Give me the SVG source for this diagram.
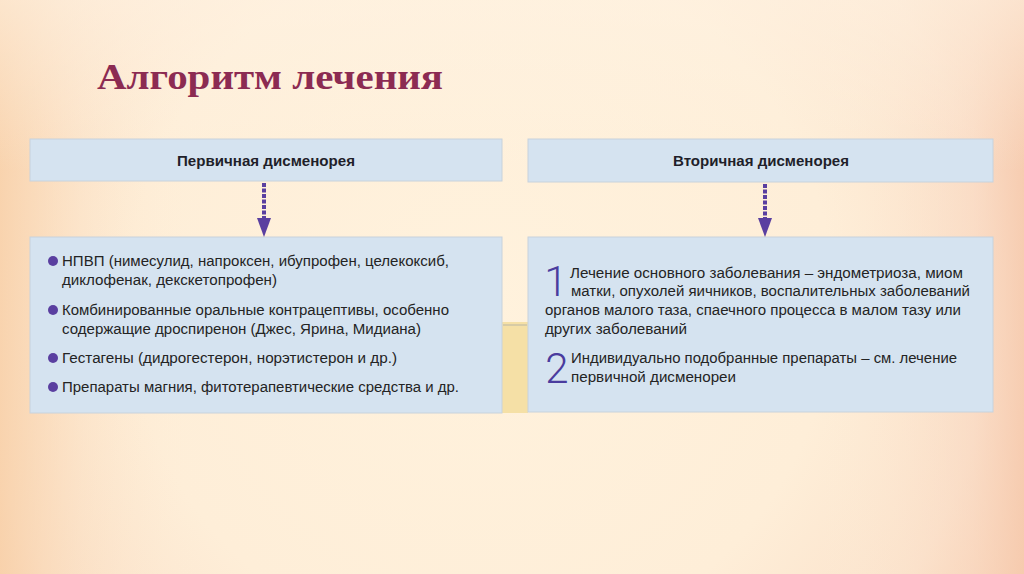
<svg xmlns="http://www.w3.org/2000/svg" width="1024" height="574" viewBox="0 0 1024 574">
<defs>
<radialGradient id="bg" cx="480" cy="300" r="640" gradientUnits="userSpaceOnUse">
<stop offset="0" stop-color="#FFF2DD"/>
<stop offset="0.55" stop-color="#FEEED8"/>
<stop offset="0.8" stop-color="#FBE2CB"/>
<stop offset="1" stop-color="#F6CBAA"/>
</radialGradient>
<linearGradient id="edgeL" x1="0" y1="0" x2="1" y2="0">
<stop offset="0" stop-color="#F8CFA6" stop-opacity="0.8"/>
<stop offset="0.08" stop-color="#FAD9B6" stop-opacity="0.3"/>
<stop offset="0.2" stop-color="#FFF2DD" stop-opacity="0"/>
<stop offset="0.8" stop-color="#FFF2DD" stop-opacity="0"/>
<stop offset="0.95" stop-color="#F9D6C0" stop-opacity="0.5"/>
<stop offset="1" stop-color="#F6C9AD" stop-opacity="0.8"/>
</linearGradient>
<linearGradient id="topLight" x1="0" y1="0" x2="0" y2="1">
<stop offset="0" stop-color="#FFF3E3" stop-opacity="0.6"/>
<stop offset="0.3" stop-color="#FFF3E3" stop-opacity="0"/>
</linearGradient>
<style>
.box{fill:#D5E3F0;stroke:#C7D2DC;stroke-width:1}
.hdr{font-family:"Liberation Sans",Arial,sans-serif;font-size:14.5px;font-weight:bold;fill:#1F1F2A}
.txt{font-family:"Liberation Sans",Arial,sans-serif;font-size:15.5px;fill:#242424}
.num{font-family:Roboto,"Open Sans","Liberation Sans",sans-serif;font-weight:300;font-size:42px;fill:#4A3C9E}
.dot{fill:#5A3FA0}
.title{font-family:"Liberation Serif","Times New Roman",serif;font-weight:bold;font-size:36px;fill:#8C2B52}
.conn{stroke:#5A3FA0;stroke-width:4;stroke-dasharray:4 1.5;fill:none}
.head{fill:#5A3FA0}
</style>
</defs>
<rect x="0" y="0" width="1024" height="574" fill="url(#bg)"/>
<rect x="0" y="0" width="1024" height="574" fill="url(#edgeL)"/>
<rect x="0" y="0" width="1024" height="574" fill="url(#topLight)"/>

<text class="title" x="97" y="89" textLength="346" lengthAdjust="spacingAndGlyphs">Алгоритм лечения</text>

<rect x="502" y="322" width="26" height="91" fill="#F5E0A6"/>
<line x1="503" y1="325" x2="527" y2="325" stroke="#B9B6A6" stroke-width="1"/>

<g id="primary">
<rect class="box" x="30" y="139" width="472" height="42"/>
<text class="hdr" x="177" y="166" textLength="178" lengthAdjust="spacingAndGlyphs">Первичная дисменорея</text>
</g>

<g id="secondary">
<rect class="box" x="528" y="139" width="465" height="43"/>
<text class="hdr" x="673" y="166" textLength="176" lengthAdjust="spacingAndGlyphs">Вторичная дисменорея</text>
</g>

<g id="primary-treatment">
<rect class="box" x="30" y="237" width="472" height="176"/>
<circle class="dot" cx="53" cy="261" r="5"/>
<text class="txt" x="62" y="266" textLength="387" lengthAdjust="spacingAndGlyphs">НПВП (нимесулид, напроксен, ибупрофен, целекоксиб,</text>
<text class="txt" x="62" y="285" textLength="215" lengthAdjust="spacingAndGlyphs">диклофенак, декскетопрофен)</text>
<circle class="dot" cx="53" cy="310" r="5"/>
<text class="txt" x="62" y="315" textLength="387" lengthAdjust="spacingAndGlyphs">Комбинированные оральные контрацептивы, особенно</text>
<text class="txt" x="62" y="334" textLength="359" lengthAdjust="spacingAndGlyphs">содержащие дроспиренон (Джес, Ярина, Мидиана)</text>
<circle class="dot" cx="53" cy="358" r="5"/>
<text class="txt" x="62" y="363" textLength="335" lengthAdjust="spacingAndGlyphs">Гестагены (дидрогестерон, норэтистерон и др.)</text>
<circle class="dot" cx="53" cy="387" r="5"/>
<text class="txt" x="62" y="392" textLength="397" lengthAdjust="spacingAndGlyphs">Препараты магния, фитотерапевтические средства и др.</text>
</g>

<g id="secondary-treatment">
<rect class="box" x="528" y="237" width="465" height="175"/>
<text class="num" x="556" y="296" text-anchor="middle">1</text>
<text class="txt" x="570" y="278" textLength="393" lengthAdjust="spacingAndGlyphs">Лечение основного заболевания – эндометриоза, миом</text>
<text class="txt" x="571" y="296" textLength="399" lengthAdjust="spacingAndGlyphs">матки, опухолей яичников, воспалительных заболеваний</text>
<text class="txt" x="545" y="315" textLength="416" lengthAdjust="spacingAndGlyphs">органов малого таза, спаечного процесса в малом тазу или</text>
<text class="txt" x="545" y="334" textLength="142" lengthAdjust="spacingAndGlyphs">других заболеваний</text>
<text class="num" x="557" y="383" text-anchor="middle">2</text>
<text class="txt" x="571" y="363" textLength="386" lengthAdjust="spacingAndGlyphs">Индивидуально подобранные препараты – см. лечение</text>
<text class="txt" x="571" y="382" textLength="165" lengthAdjust="spacingAndGlyphs">первичной дисменореи</text>
</g>

<g id="connectors">
<line class="conn" x1="264" y1="183" x2="264" y2="218"/>
<path class="head" d="M257,218 L271,218 L264,237 Z"/>
<line class="conn" x1="765" y1="184" x2="765" y2="218"/>
<path class="head" d="M758,218 L772,218 L765,237 Z"/>
</g>
</svg>
